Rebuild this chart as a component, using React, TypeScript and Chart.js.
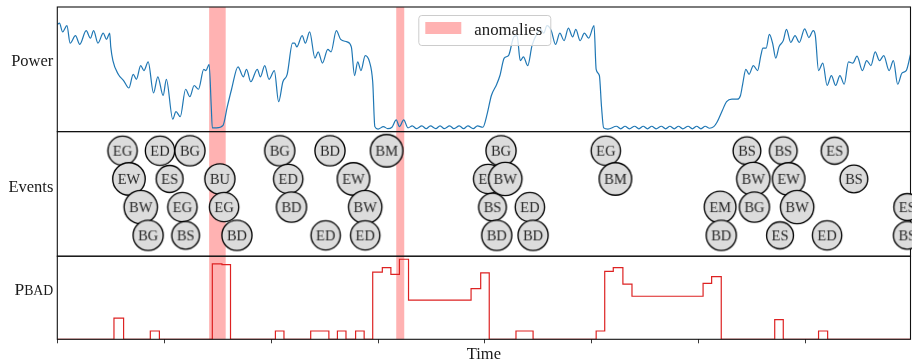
import React, { useEffect, useRef } from 'react';
import { Chart, registerables } from 'chart.js';

Chart.register(...registerables);

const SERIF = "'Liberation Serif', 'Times New Roman', serif";

// ---------- data ----------
const powerTime = [
  0, 2, 5, 9, 12, 17, 21, 27, 31, 34,
  38, 43, 46, 49, 50, 52, 57, 62, 67, 71,
  74, 78, 81, 85, 90, 94, 99, 102, 108, 111,
  115, 120, 124, 128, 132, 137, 139, 142, 144, 145,
  149, 155, 159, 163, 169, 174, 177, 181, 187, 190,
  194, 198, 203, 207, 211, 215, 220, 222, 224, 229,
  232, 236, 241, 244, 248, 253, 256, 261, 265, 271,
  275, 278, 281, 284, 288, 292, 295, 297, 300, 305,
  309, 313, 317, 320, 324, 328, 332, 336, 341, 345,
  349, 354, 358, 362, 367, 371, 376, 380, 384, 389,
  393, 398, 402, 406, 411, 414, 418, 422, 427, 430,
  433, 436, 440, 444, 449, 452, 455, 458, 462, 466,
  470, 474, 478, 482, 485, 489, 493, 497, 502, 504,
  507, 509, 511, 515, 523, 527, 531, 535, 540, 544,
  548, 552, 556, 560, 565, 569, 573, 577, 581, 585,
  590, 594, 598, 602, 606, 610, 614, 617, 622, 626,
  631, 636, 639, 641, 644, 647, 651, 655, 658, 660,
  663, 666, 669, 672, 675, 679, 682, 686, 690, 694,
  699, 703, 707, 709, 712, 716, 720, 724, 728, 732,
  736, 740, 744, 748, 753, 757, 761, 765, 769, 773,
  778, 782, 786, 790, 794, 798,
];
const powerValue = [
  86, 87, 80, 85, 71, 77, 70, 81, 75, 81,
  71, 79, 74, 79, 68, 57, 46, 41, 35, 46,
  42, 53, 49, 56, 31, 44, 29, 42, 10, 16,
  12, 34, 28, 37, 34, 50, 49, 54, 20, 3,
  3, 5, 20, 34, 52, 44, 50, 40, 50, 44,
  53, 42, 49, 24, 40, 46, 71, 71, 68, 77,
  71, 80, 59, 64, 55, 66, 64, 81, 74, 72,
  68, 45, 56, 49, 61, 56, 40, 4, 2, 4,
  2.4, 3.5, 9.4, 4, 9.4, 3, 4.6, 2.4, 4.6, 2.4,
  4.6, 2.4, 4.6, 2.4, 4.6, 2.4, 4.6, 2.4, 4.6, 2.4,
  4.6, 3.5, 14, 29, 38, 45, 59, 61, 76, 77,
  57, 60, 53, 69, 79, 82, 79, 85, 81, 70,
  79, 73, 83, 76, 82, 73, 79, 75, 85, 50,
  45, 20, 3, 2, 4.3, 2.2, 4.3, 2.2, 4.3, 2.2,
  4.3, 2.2, 4.3, 2.2, 4.3, 2.2, 4.3, 2.2, 4.3, 2.2,
  4.3, 2.2, 4.3, 2.2, 4.3, 2.7, 4, 7.5, 17, 24,
  26, 26, 29, 38, 50, 46, 53, 49, 61, 67,
  67, 78, 71, 59, 68, 73, 82, 71.5, 77, 71.5,
  82.5, 75.5, 81, 77, 49, 55, 37, 45, 37, 45,
  38, 56, 55, 60.5, 49, 57, 53, 64, 57, 61,
  49, 57, 38, 47, 49, 62,
];

const eventTime = [
  61, 67, 78, 85, 96, 105, 117, 120, 124, 152,
  156, 168, 208, 216, 219, 251, 255, 277, 288, 288,
  308, 403, 407, 411, 415, 419, 442, 445, 513, 522,
  620, 621, 645, 651, 652, 676, 679, 684, 692, 720,
  727, 745, 795, 795,
];
const eventLabel = [
  'EG', 'EW', 'BW', 'BG', 'ED', 'ES', 'EG', 'BS', 'BG', 'BU',
  'EG', 'BD', 'BG', 'ED', 'BD', 'ED', 'BD', 'EW', 'BW', 'ED',
  'BM', 'ED', 'BS', 'BD', 'BG', 'BW', 'ED', 'BD', 'EG', 'BM',
  'EM', 'BD', 'BS', 'BW', 'BG', 'ES', 'BS', 'EW', 'BW', 'ED',
  'ES', 'BS', 'ES', 'BS',
];
const eventRow = [
  1, 2, 3, 4, 1, 2, 3, 4, 1, 2,
  3, 4, 1, 2, 3, 4, 1, 2, 3, 4,
  1, 2, 3, 4, 1, 2, 3, 4, 1, 2,
  3, 4, 1, 2, 3, 4, 1, 2, 3, 4,
  1, 2, 3, 4,
];

const pbadTime = [
  0, 53, 62, 87, 95.5, 145, 154, 162, 204, 212,
  237, 254, 262, 270, 279, 287, 295, 304, 312, 320,
  328.5, 387, 396, 404, 429, 445, 504, 512, 520, 529,
  537.5, 604, 612, 621, 671, 679, 712, 720.5, 798,
];
const pbadValue = [
  0, 0.28, 0, 0.11, 0, 1.0, 0.99, 0, 0.11, 0,
  0.11, 0, 0.11, 0, 0.11, 0, 0.89, 0.95, 0.86, 1.06,
  0.52, 0.67, 0.88, 0, 0.11, 0, 0.11, 0.9, 0.95, 0.73,
  0.57, 0.74, 0.83, 0, 0.26, 0, 0.11, 0, 0,
];

const anomalyStart = [142, 317];
const anomalyEnd = [157.5, 324.5];

const xTickValues = [0, 100, 200, 300, 400, 500, 600, 700];
const xTickLabels = ['', '', '', '', '', '', '', ''];
const panelLabels = ['Power', 'Events', 'PBAD'];
const xTitle = 'Time';
const legendLabel = 'anomalies';

// ---------- event badges (circle + text as point style) ----------
const badgeCache: Record<string, { img: HTMLCanvasElement; r: number }> = {};
function badge(label: string) {
  if (badgeCache[label]) return badgeCache[label];
  const font = `14.5px ${SERIF}`;
  const probe = document.createElement('canvas').getContext('2d')!;
  probe.font = font;
  const w = probe.measureText(label).width;
  const r = w / 2 + 5;
  const size = 2 * Math.ceil(r + 2);
  const c = document.createElement('canvas');
  c.width = size;
  c.height = size;
  const g = c.getContext('2d')!;
  const cx = size / 2;
  g.beginPath();
  g.arc(cx, cx, r, 0, Math.PI * 2);
  g.fillStyle = '#dcdcdc';
  g.fill();
  g.lineWidth = 1.35;
  g.strokeStyle = '#000';
  g.stroke();
  g.font = font;
  g.fillStyle = '#262626';
  g.textAlign = 'center';
  g.textBaseline = 'alphabetic';
  g.fillText(label, cx, cx + 4.8);
  const out = { img: c, r };
  badgeCache[label] = out;
  return out;
}

// ---------- decorations plugin ----------
const decor = {
  id: 'decor',
  beforeDatasetsDraw(chart: any) {
    const { ctx, chartArea: a, scales } = chart;
    const x = scales.x;
    ctx.save();
    ctx.fillStyle = 'rgba(255,0,0,0.3)';
    for (let i = 0; i < anomalyStart.length; i++) {
      const x0 = x.getPixelForValue(anomalyStart[i]);
      const x1 = x.getPixelForValue(anomalyEnd[i]);
      ctx.fillRect(x0, a.top, x1 - x0, a.bottom - a.top);
    }
    ctx.restore();
  },
  beforeDatasetDraw(chart: any, args: any) {
    if (args.index !== 1) return;
    const { ctx, chartArea: a, scales } = chart;
    ctx.save();
    ctx.strokeStyle = '#111';
    ctx.lineWidth = 1.1;
    for (const id of ['yPower', 'yEvents', 'yPbad']) {
      const s = scales[id];
      ctx.strokeRect(a.left, s.top, a.right - a.left, s.bottom - s.top);
    }
    ctx.restore();
  },
  afterDraw(chart: any) {
    const { ctx, chartArea: a, scales } = chart;
    ctx.save();
    ctx.fillStyle = '#1a1a1a';
    ctx.textBaseline = 'alphabetic';
    const lx = a.left - 4;
    ctx.font = `16.5px ${SERIF}`;
    ctx.textAlign = 'right';
    ctx.fillText(panelLabels[0], lx, scales.yPower.top + 58.7);
    ctx.fillText(panelLabels[1], lx, scales.yEvents.top + 60);
    // small caps P_BAD
    const first = panelLabels[2].slice(0, 1);
    const rest = panelLabels[2].slice(1);
    const big = `17.5px ${SERIF}`;
    const small = `13.8px ${SERIF}`;
    ctx.font = small;
    const wRest = ctx.measureText(rest).width;
    ctx.font = big;
    const wFirst = ctx.measureText(first).width;
    ctx.textAlign = 'left';
    const by = scales.yPbad.top + 39;
    const sx = lx - wRest - wFirst;
    ctx.fillText(first, sx, by);
    ctx.font = small;
    ctx.fillText(rest, sx + wFirst, by);
    // x title
    ctx.font = `16.5px ${SERIF}`;
    ctx.textAlign = 'center';
    ctx.fillText(xTitle, (a.left + a.right) / 2, 359);
    // legend
    const bx = a.left + 361, byy = a.top + 8, bw = 132, bh = 30;
    ctx.beginPath();
    ctx.roundRect(bx + 0.5, byy + 0.5, bw, bh, 3);
    ctx.fillStyle = 'rgba(255,255,255,0.8)';
    ctx.fill();
    ctx.strokeStyle = '#cccccc';
    ctx.lineWidth = 1;
    ctx.stroke();
    ctx.fillStyle = 'rgba(255,0,0,0.3)';
    ctx.fillRect(bx + 7, byy + 7, 36, 12);
    ctx.fillStyle = '#1a1a1a';
    ctx.font = `16.8px ${SERIF}`;
    ctx.textAlign = 'left';
    ctx.fillText(legendLabel, bx + 56, byy + 19.5);
    ctx.restore();
  },
};

const hiddenY = {
  type: 'linear' as const,
  position: 'left' as const,
  stack: 'panels',
  ticks: { display: false },
  grid: { display: false },
  border: { display: false },
  afterFit: (s: any) => {
    s.width = 57.3;
  },
};

export default function App() {
  const ref = useRef<HTMLCanvasElement>(null);
  useEffect(() => {
    const chart = new Chart(ref.current!, {
      type: 'line',
      data: {
        datasets: [
          {
            type: 'line',
            label: 'Power',
            data: powerTime.map((t, i) => ({ x: t, y: powerValue[i] })),
            yAxisID: 'yPower',
            borderColor: '#1f77b4',
            borderWidth: 1.2,
            pointRadius: 0,
            cubicInterpolationMode: 'monotone',
            order: 2,
          },
          {
            type: 'scatter',
            label: 'Events',
            data: eventTime.map((t, i) => ({ x: t, y: eventRow[i] })),
            yAxisID: 'yEvents',
            showLine: false,
            clip: false,
            order: 0,
            pointStyle: (c: any) =>
              c.dataIndex === undefined ? 'circle' : badge(eventLabel[c.dataIndex]).img,
            pointRadius: (c: any) =>
              c.dataIndex === undefined ? 10 : badge(eventLabel[c.dataIndex]).r,
          } as any,
          {
            type: 'line',
            label: 'PBAD',
            data: pbadTime.map((t, i) => ({ x: t, y: pbadValue[i] })),
            yAxisID: 'yPbad',
            borderColor: '#dd2222',
            borderWidth: 1.2,
            pointRadius: 0,
            stepped: true,
            order: 1,
          },
        ],
      },
      options: {
        responsive: false,
        animation: false,
        events: [],
        layout: { autoPadding: false, padding: { top: 7, right: 1.5, left: 0, bottom: 0 } },
        plugins: { legend: { display: false }, tooltip: { enabled: false } },
        scales: {
          x: {
            type: 'linear',
            position: 'bottom',
            min: 0,
            max: 798,
            afterBuildTicks: (s: any) => {
              s.ticks = xTickValues.map((v) => ({ value: v }));
            },
            ticks: { display: false, callback: (_v: any, i: number) => xTickLabels[i] ?? '' },
            grid: {
              display: true,
              drawOnChartArea: false,
              drawTicks: true,
              tickLength: 4,
              color: '#222',
              lineWidth: 0.9,
            },
            border: { display: false },
            afterFit: (s: any) => {
              s.height = 21.7;
            },
          },
          yPower: { ...hiddenY, stackWeight: 1.5, weight: 3, min: 0, max: 100 },
          yEvents: { ...hiddenY, stackWeight: 1.5, weight: 2, min: 0.323, max: 4.741, reverse: true },
          yPbad: { ...hiddenY, stackWeight: 1, weight: 1, min: 0, max: 1.1 },
        } as any,
      },
      plugins: [decor],
    } as any);
    return () => chart.destroy();
  }, []);
  return (
    <div style={{ position: 'fixed', left: 0, top: 0, width: 912, height: 361, background: '#fff' }}>
      <canvas ref={ref} width={912} height={361} style={{ display: 'block', width: 912, height: 361 }} />
    </div>
  );
}
